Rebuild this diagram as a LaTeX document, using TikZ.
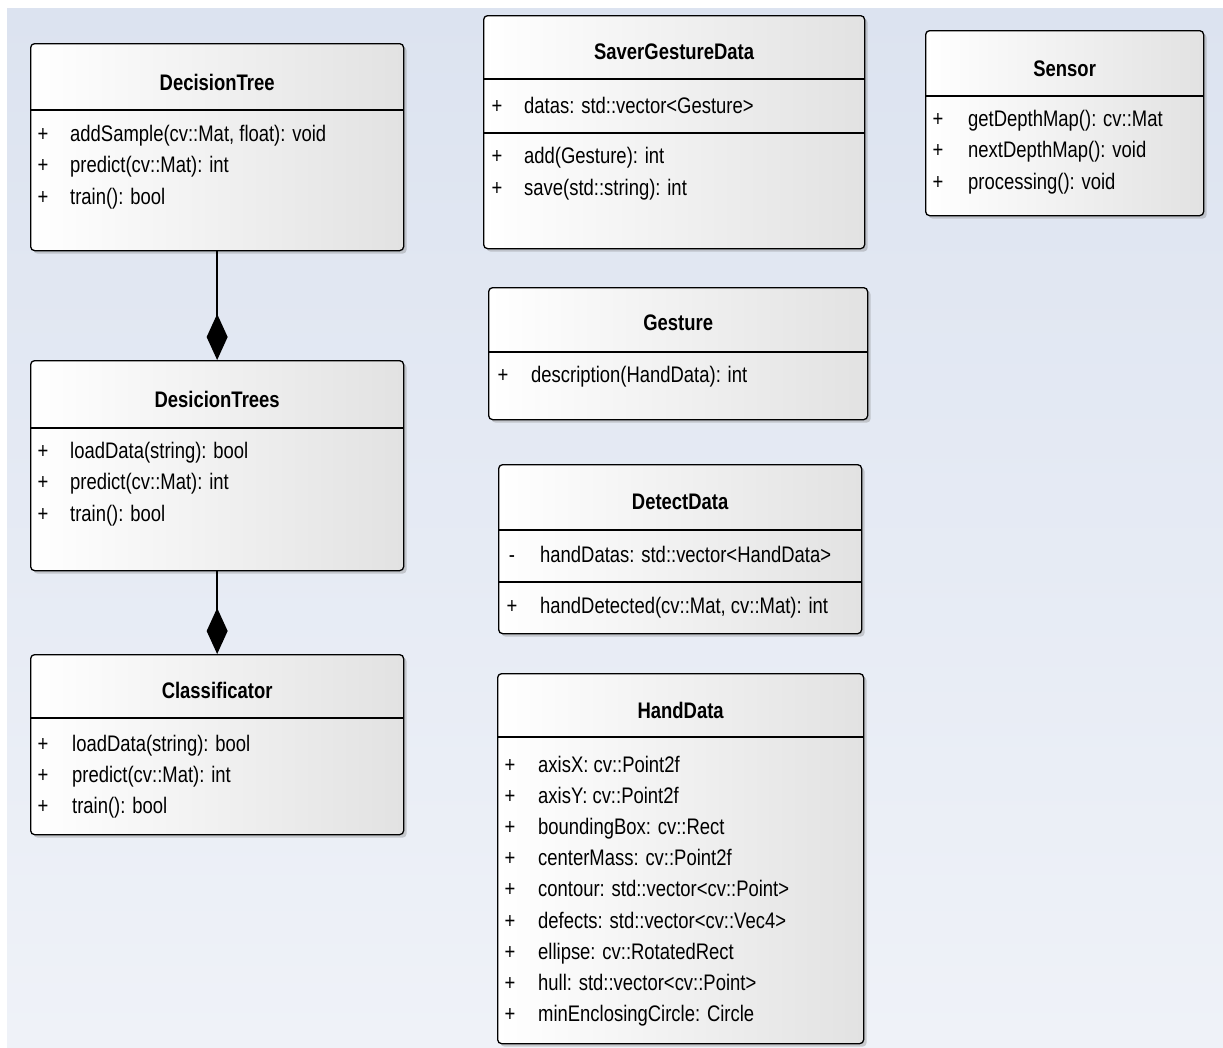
\documentclass[tikz,border=0pt]{standalone}
\usepackage{fontspec}
\setmainfont{Liberation Sans}[FakeStretch=0.82]
\usepackage{tikz}
\usetikzlibrary{arrows.meta,shadows}
\definecolor{bgtop}{RGB}{220,227,240}
\definecolor{bgbottom}{RGB}{239,242,248}
\definecolor{boxgray}{RGB}{226,226,226}

\begin{document}
\begin{tikzpicture}[x=1pt, y=-1pt,
    umlbox/.style={draw, line width=1.3pt, rounded corners=4pt, anchor=north west,
        left color=white, right color=boxgray,
        drop shadow={shadow xshift=3pt, shadow yshift=-3pt, opacity=0.35}},
    umltitle/.style={font=\fontsize{22.5}{26}\selectfont\bfseries, inner sep=0pt},
    vis/.style={font=\fontsize{22.5}{26}\selectfont, inner sep=0pt, text height=16pt, text depth=4pt},
    entry/.style={font=\fontsize{22.5}{26}\selectfont, anchor=west, inner sep=0pt, text height=16pt, text depth=4pt},
    sep/.style={line width=1.3pt},
    comp/.style={line width=1.4pt, -{Diamond[length=46pt, width=21pt]}}]

    % background
    \useasboundingbox (0,0) rectangle (1223,1047);
    \fill[white] (0,0) rectangle (1223,1047);
    \shade[top color=bgtop, bottom color=bgbottom] (7,8) rectangle (1223,1047);

    % DecisionTree
    \node[umlbox, minimum width=373pt, minimum height=207pt] (dtree) at (30,43) {};
    \node[umltitle] (dtree-t) at (dtree.north |- 0,82) {DecisionTree};
    \draw[sep] (dtree.west |- 0,110) -- (dtree.east |- 0,110);
    \foreach \t [count=\i] in {{addSample(cv::Mat, float): void}, {predict(cv::Mat): int}, {train(): bool}} {
        \node[vis] (dtree-v\i) at (43,135+31.5*\i-31.5) {+};
        \node[entry] (dtree-\i) at (70,135+31.5*\i-31.5) {\t};
    }

    % DesicionTrees
    \node[umlbox, minimum width=373pt, minimum height=210pt] (dtrees) at (30,360) {};
    \node[umltitle] (dtrees-t) at (dtrees.north |- 0,399) {DesicionTrees};
    \draw[sep] (dtrees.west |- 0,428) -- (dtrees.east |- 0,428);
    \foreach \t [count=\i] in {{loadData(string): bool}, {predict(cv::Mat): int}, {train(): bool}} {
        \node[vis] (dtrees-v\i) at (43,452+31.5*\i-31.5) {+};
        \node[entry] (dtrees-\i) at (70,452+31.5*\i-31.5) {\t};
    }

    % Classificator
    \node[umlbox, minimum width=373pt, minimum height=180pt] (classif) at (30,654) {};
    \node[umltitle] (classif-t) at (classif.north |- 0,690) {Classificator};
    \draw[sep] (classif.west |- 0,718) -- (classif.east |- 0,718);
    \foreach \t [count=\i] in {{loadData(string): bool}, {predict(cv::Mat): int}, {train(): bool}} {
        \node[vis] (classif-v\i) at (43,745+31*\i-31) {+};
        \node[entry] (classif-\i) at (72,745+31*\i-31) {\t};
    }

    % compositions
    \draw[comp] (dtree.south) -- (dtrees.north);
    \draw[comp] (dtrees.south) -- (classif.north);

    % SaverGestureData
    \node[umlbox, minimum width=381pt, minimum height=233pt] (saver) at (483,15) {};
    \node[umltitle] (saver-t) at (saver.north |- 0,52) {SaverGestureData};
    \draw[sep] (saver.west |- 0,79) -- (saver.east |- 0,79);
    \draw[sep] (saver.west |- 0,133) -- (saver.east |- 0,133);
    \node[vis] (saver-va) at (497,107) {+};
    \node[entry] (saver-a) at (524,107) {datas: std::vector<Gesture>};
    \foreach \t [count=\i] in {{add(Gesture): int}, {save(std::string): int}} {
        \node[vis] (saver-v\i) at (497,157+32*\i-32) {+};
        \node[entry] (saver-\i) at (524,157+32*\i-32) {\t};
    }

    % Gesture
    \node[umlbox, minimum width=379pt, minimum height=132pt] (gesture) at (488,287) {};
    \node[umltitle] (gesture-t) at (gesture.north |- 0,323) {Gesture};
    \draw[sep] (gesture.west |- 0,352) -- (gesture.east |- 0,352);
    \node[vis] (gesture-v1) at (503,376) {+};
    \node[entry] (gesture-1) at (531,376) {description(HandData): int};

    % DetectData
    \node[umlbox, minimum width=363pt, minimum height=169pt] (detect) at (498,464) {};
    \node[umltitle] (detect-t) at (detect.north |- 0,502) {DetectData};
    \draw[sep] (detect.west |- 0,530) -- (detect.east |- 0,530);
    \draw[sep] (detect.west |- 0,582) -- (detect.east |- 0,582);
    \node[vis] (detect-va) at (512,556) {-};
    \node[entry] (detect-a) at (540,556) {handDatas: std::vector<HandData>};
    \node[vis] (detect-v1) at (512,607) {+};
    \node[entry] (detect-1) at (540,607) {handDetected(cv::Mat, cv::Mat): int};

    % HandData
    \node[umlbox, minimum width=366pt, minimum height=370pt] (hand) at (497,673) {};
    \node[umltitle] (hand-t) at (hand.north |- 0,710) {HandData};
    \draw[sep] (hand.west |- 0,737) -- (hand.east |- 0,737);
    \foreach \t [count=\i] in {{axisX: cv::Point2f}, {axisY: cv::Point2f}, {boundingBox: cv::Rect},
        {centerMass: cv::Point2f}, {contour: std::vector<cv::Point>}, {defects: std::vector<cv::Vec4>},
        {ellipse: cv::RotatedRect}, {hull: std::vector<cv::Point>}, {minEnclosingCircle: Circle}} {
        \node[vis] (hand-v\i) at (510,766+31.2*\i-31.2) {+};
        \node[entry] (hand-\i) at (538,766+31.2*\i-31.2) {\t};
    }

    % Sensor
    \node[umlbox, minimum width=278pt, minimum height=185pt] (sensor) at (925,30) {};
    \node[umltitle] (sensor-t) at (sensor.north |- 0,69) {Sensor};
    \draw[sep] (sensor.west |- 0,96) -- (sensor.east |- 0,96);
    \foreach \t [count=\i] in {{getDepthMap(): cv::Mat}, {nextDepthMap(): void}, {processing(): void}} {
        \node[vis] (sensor-v\i) at (938,120+31.5*\i-31.5) {+};
        \node[entry] (sensor-\i) at (968,120+31.5*\i-31.5) {\t};
    }
\end{tikzpicture}
\end{document}
